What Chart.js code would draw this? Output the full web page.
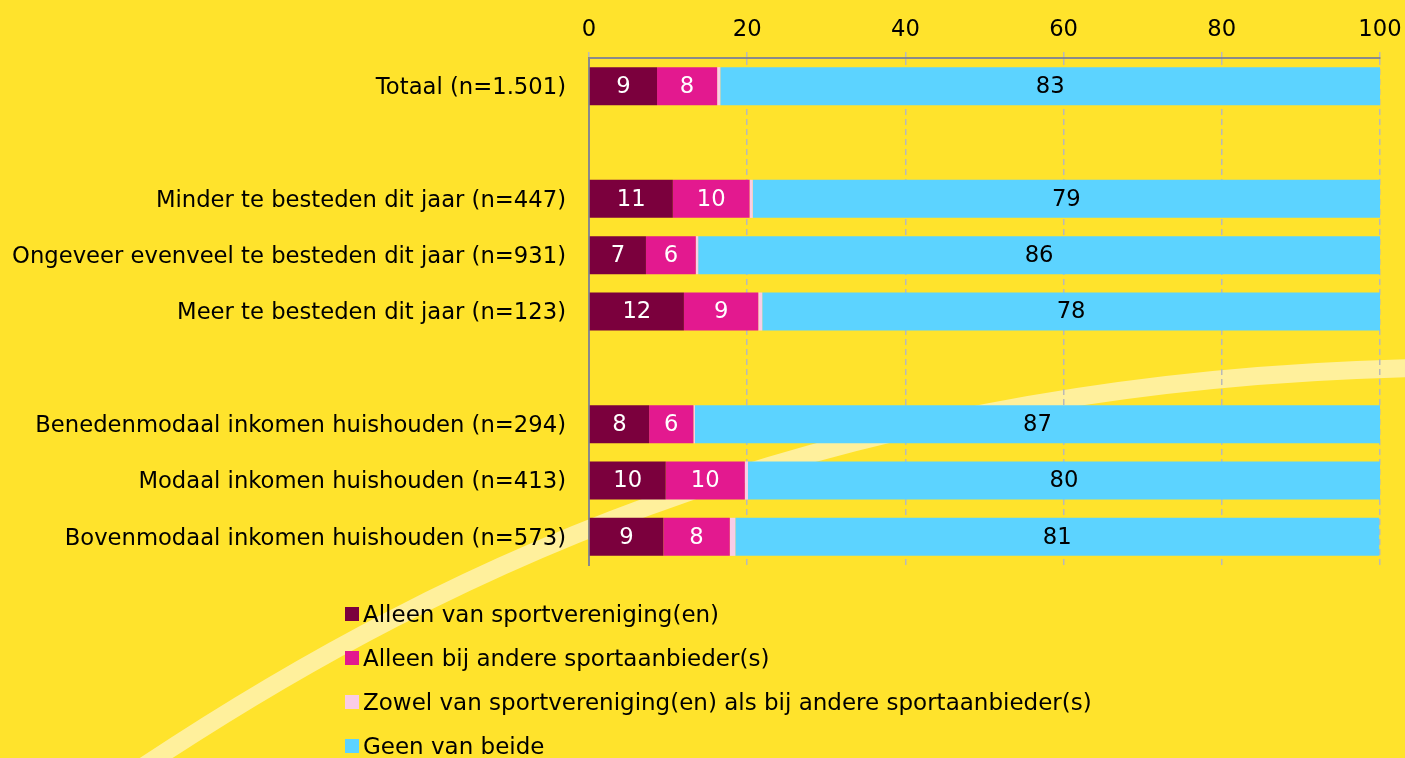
<!DOCTYPE html>
<html><head><meta charset="utf-8">
<script src="https://cdn.jsdelivr.net/npm/chart.js@4"></script>
<style>
html,body{margin:0;padding:0;background:#FFE32C;}
#wrap{position:relative;width:1405px;height:758px;overflow:hidden;background:#FFE32C;}
#c{position:absolute;left:0;top:0;}
#legend{position:absolute;left:345px;top:592px;font-family:'DejaVu Sans';font-size:23px;color:#000;}
.item{height:44px;display:flex;align-items:center;white-space:nowrap;}
.box{width:14px;height:14px;margin-right:4px;flex:none;}
</style></head>
<body><div id="wrap"><canvas id="c" width="1405" height="758"></canvas><div id="legend"></div></div>
<script>
const categories = [
  'Totaal (n=1.501)', '',
  'Minder te besteden dit jaar (n=447)',
  'Ongeveer evenveel te besteden dit jaar (n=931)',
  'Meer te besteden dit jaar (n=123)', '',
  'Benedenmodaal inkomen huishouden (n=294)',
  'Modaal inkomen huishouden (n=413)',
  'Bovenmodaal inkomen huishouden (n=573)'
];
const seriesNames = [
  'Alleen van sportvereniging(en)',
  'Alleen bij andere sportaanbieder(s)',
  'Zowel van sportvereniging(en) als bij andere sportaanbieder(s)',
  'Geen van beide'
];
const alleenVereniging = [8.6, null, 10.6, 7.2, 12.0, null, 7.6, 9.7, 9.4];
const alleenAnders     = [7.6, null, 9.7, 6.3, 9.4, null, 5.6, 10.0, 8.4];
const zowel            = [0.4, null, 0.4, 0.3, 0.5, null, 0.2, 0.4, 0.7];
const geen             = [83.4, null, 79.3, 86.2, 78.1, null, 86.6, 79.9, 81.4];
const xTicks = [0, 20, 40, 60, 80, 100];

const colors = ['#7B003D', '#E3198F', '#FACCE6', '#5CD3FF'];
const labelColors = ['#FFFFFF', '#FFFFFF', null, '#000000'];
const FONT = 'DejaVu Sans';
const FS = 22.7;

const bgPlugin = {
  id: 'bg',
  beforeDraw(chart) {
    const ctx = chart.ctx;
    ctx.save();
    ctx.strokeStyle = '#FFF09C';
    ctx.lineWidth = 18;
    ctx.beginPath();
    ctx.moveTo(138, 770);
    ctx.bezierCurveTo(460, 555, 850, 380, 1420, 368);
    ctx.stroke();
    ctx.restore();
  }
};

const valuePlugin = {
  id: 'vals',
  afterDatasetsDraw(chart) {
    const ctx = chart.ctx;
    ctx.save();
    ctx.font = FS + 'px "' + FONT + '"';
    ctx.textAlign = 'center';
    ctx.textBaseline = 'middle';
    chart.data.datasets.forEach((ds, i) => {
      if (!labelColors[i]) return;
      ctx.fillStyle = labelColors[i];
      chart.getDatasetMeta(i).data.forEach((el, j) => {
        const v = ds.data[j];
        if (v == null) return;
        ctx.fillText(String(Math.round(v)), (el.x + el.base) / 2, el.y + 1);
      });
    });
    ctx.restore();
  }
};

const series = [alleenVereniging, alleenAnders, zowel, geen];
const datasets = series.map((d, i) => ({
  label: seriesNames[i], data: d, backgroundColor: colors[i],
  borderWidth: 0, barPercentage: 0.675, categoryPercentage: 1
}));

new Chart(document.getElementById('c'), {
  type: 'bar',
  data: { labels: categories, datasets },
  options: {
    indexAxis: 'y', responsive: false, animation: false,
    layout: { padding: { left: 0, right: 25, top: 0, bottom: 193 } },
    plugins: { legend: { display: false }, tooltip: { enabled: false } },
    scales: {
      x: {
        position: 'top', stacked: true, min: 0, max: 100,
        afterBuildTicks(s) { s.ticks = xTicks.map(v => ({ value: v })); },
        afterFit(s) { s.height = 58; s.paddingRight = 0; s.paddingLeft = 0; },
        ticks: { font: { family: FONT, size: FS }, color: '#000', padding: 8 },
        grid: { color: '#B9B9B9', lineWidth: 1.5, tickLength: 6, drawTicks: true },
        border: { display: true, color: '#8A8A8A', width: 2, dash: [6, 4] }
      },
      y: {
        stacked: true,
        afterFit(s) { s.width = 589; },
        ticks: { font: { family: FONT, size: FS }, color: '#000', padding: 23, autoSkip: false, labelOffset: 2 },
        grid: { display: false, drawTicks: false },
        border: { display: true, color: '#8A8A8A', width: 2 }
      }
    }
  },
  plugins: [bgPlugin, valuePlugin]
});

const leg = document.getElementById('legend');
seriesNames.forEach((n, i) => {
  const d = document.createElement('div'); d.className = 'item';
  const b = document.createElement('span'); b.className = 'box'; b.style.background = colors[i];
  const t = document.createElement('span'); t.textContent = n;
  d.appendChild(b); d.appendChild(t); leg.appendChild(d);
});
</script></body></html>
